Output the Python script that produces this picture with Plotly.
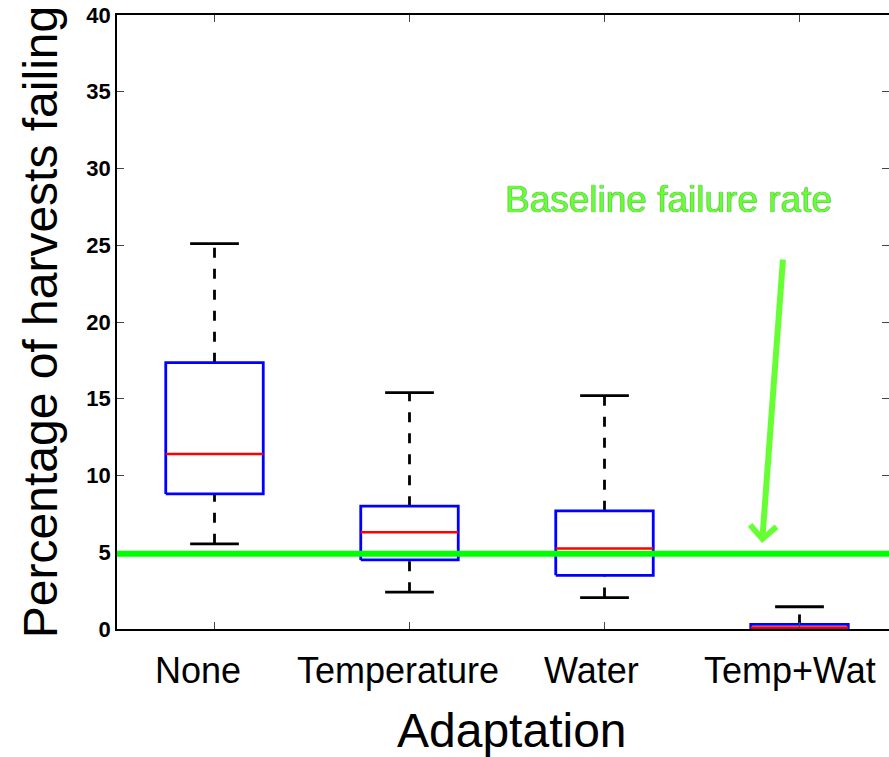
import plotly.graph_objects as go

categories = ["None", "Temperature", "Water", "Temp+Wat"]
upper_whisker = [25.1, 15.4, 15.2, 1.45]
q3 = [17.35, 8.0, 7.7, 0.3]
median = [11.4, 6.3, 5.25, 0.1]
q1 = [8.8, 4.5, 3.5, 0.0]
lower_whisker = [5.55, 2.4, 2.05, 0.0]
baseline_rate = 4.9
y_ticks = [0, 5, 10, 15, 20, 25, 30, 35, 40]

positions = [1, 2, 3, 4]
half_box = 0.25
half_cap = 0.125

fig = go.Figure()

for i, p in enumerate(positions):
    # dashed whiskers
    fig.add_trace(go.Scatter(x=[p, p], y=[q3[i], upper_whisker[i]], mode="lines",
                             line=dict(color="black", width=2.8, dash="10px,11px"),
                             showlegend=False, hoverinfo="skip"))
    fig.add_trace(go.Scatter(x=[p, p], y=[lower_whisker[i], q1[i]], mode="lines",
                             line=dict(color="black", width=2.8, dash="10px,11px"),
                             showlegend=False, hoverinfo="skip"))
    # caps
    for v in (upper_whisker[i], lower_whisker[i]):
        fig.add_trace(go.Scatter(x=[p - half_cap, p + half_cap], y=[v, v], mode="lines",
                                 line=dict(color="black", width=2.8),
                                 showlegend=False, hoverinfo="skip"))
    # box
    fig.add_trace(go.Scatter(x=[p - half_box, p + half_box, p + half_box, p - half_box, p - half_box],
                             y=[q1[i], q1[i], q3[i], q3[i], q1[i]], mode="lines",
                             line=dict(color="#0000ff", width=2.8),
                             showlegend=False, hoverinfo="skip"))
    # median
    fig.add_trace(go.Scatter(x=[p - half_box, p + half_box], y=[median[i], median[i]], mode="lines",
                             line=dict(color="#ff0000", width=2.5),
                             showlegend=False, hoverinfo="skip"))

# baseline line
fig.add_hline(y=baseline_rate, line=dict(color="#00ff00", width=6), layer="above")

# empty trace for the right-side ticks axis
fig.add_trace(go.Scatter(x=[], y=[], yaxis="y2", showlegend=False))

x_right = 0.5 + (889 - 117) / 195.0

# category labels (slightly left of the box centres, as in the original)
label_shift = [-17, -12, -13, -10]
for i, p in enumerate(positions):
    fig.add_annotation(x=p, y=0, xref="x", yref="paper", yanchor="middle",
                       xshift=label_shift[i], yshift=-41, showarrow=False,
                       text=categories[i],
                       font=dict(family="Liberation Sans, Arial", size=36, color="black"))

fig.add_annotation(x=0.5, y=0, xref="paper", yref="paper", yanchor="middle",
                   xshift=9, yshift=-101, showarrow=False, text="Adaptation",
                   font=dict(family="Liberation Sans, Arial", size=48, color="black"))

fig.add_annotation(x=3.808, y=5.6, xref="x", yref="y", ax=21, ay=-285,
                   showarrow=True, arrowhead=4, arrowsize=0.85, arrowwidth=6,
                   arrowcolor="#66ff33", text="")
fig.add_annotation(x=3.326, y=27.95, xref="x", yref="y", showarrow=False,
                   text="Baseline failure rate",
                   font=dict(family="Liberation Sans, Arial", size=37, color="#66ff33",
                             shadow="0px 0px 1px #003300"))

fig.update_layout(
    width=889, height=757,
    margin=dict(l=117, r=0, t=15, b=128, autoexpand=False),
    paper_bgcolor="white", plot_bgcolor="white",
    font=dict(family="Liberation Sans, Arial", color="black"),
    xaxis=dict(range=[0.5, x_right], tickvals=positions, showticklabels=False,
               ticks="inside", ticklen=7, tickcolor="#444", tickwidth=1,
               showline=True, linecolor="black", linewidth=1.5, mirror="ticks",
               showgrid=False, zeroline=False, automargin=False),
    yaxis=dict(range=[0, 40], tickvals=y_ticks, ticks="inside", ticklen=7,
               tickcolor="#444", tickwidth=1,
               showline=True, linecolor="black", linewidth=1.5, mirror=False,
               showgrid=False, zeroline=False, automargin=False,
               tickfont=dict(size=22, color="black", weight="bold"),
               title=dict(text="Percentage of harvests failing", font=dict(size=48, color="black"),
                          standoff=14)),
    yaxis2=dict(range=[0, 40], tickvals=y_ticks, overlaying="y", side="right",
                ticks="inside", ticklen=7, tickcolor="#444", tickwidth=1, automargin=False,
                showline=False, showgrid=False, zeroline=False, showticklabels=False),
)

fig.write_html("out.html", config={"displayModeBar": False},
               post_script="document.body.style.margin='0';document.body.style.overflow='hidden';")
